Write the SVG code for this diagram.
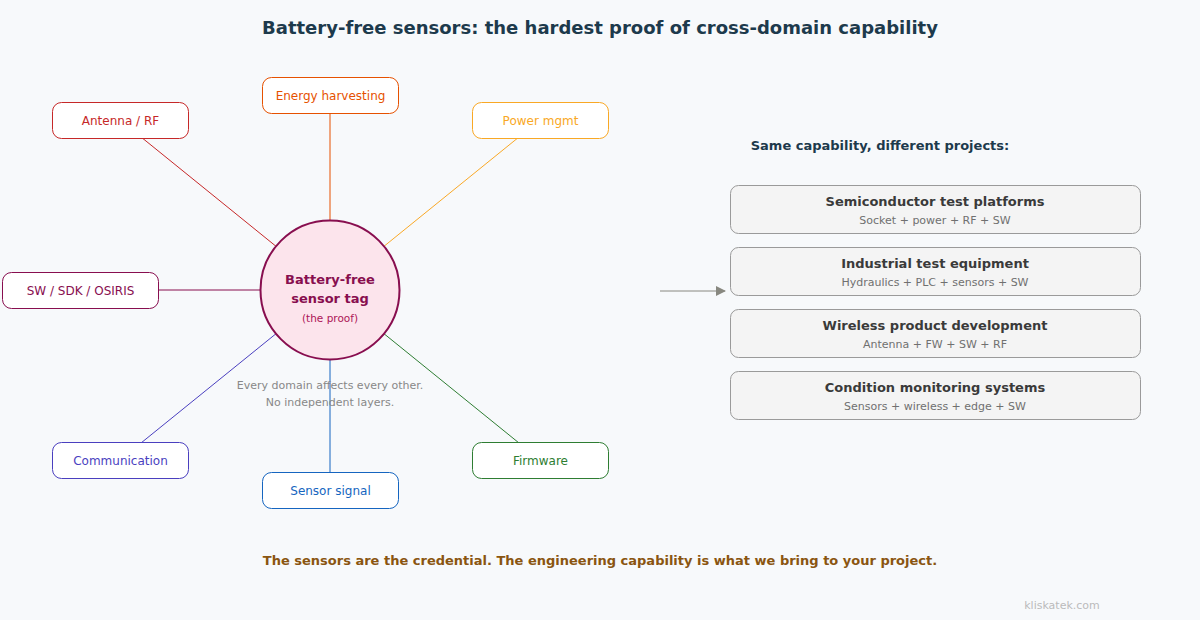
<svg xmlns="http://www.w3.org/2000/svg" width="1200" height="620" viewBox="0 0 1200 620">
<defs>
<marker id="arr" markerWidth="10" markerHeight="10" refX="9" refY="5" orient="auto" markerUnits="userSpaceOnUse">
<path d="M0,0 L10,5 L0,10 z" fill="#888880"/>
</marker>
<style>
text{font-family:"DejaVu Sans","Liberation Sans",sans-serif}
.dom rect{fill:#ffffff;stroke-width:1}
.dom text{font-size:12px;text-anchor:middle}
.proj rect{fill:#f4f4f4;stroke:#9a9a9a;stroke-width:1}
.pt{font-size:13px;font-weight:bold;fill:#3a3a3a;text-anchor:middle}
.ps{font-size:11px;fill:#707070;text-anchor:middle}
.conn line{stroke-width:1}
</style>
</defs>
<rect width="1200" height="620" fill="#f7f9fb"/>
<text x="600" y="34" font-size="18" font-weight="bold" fill="#1d3a4c" text-anchor="middle">Battery-free sensors: the hardest proof of cross-domain capability</text>

<g id="connectors" class="conn">
<line x1="120" y1="120" x2="330" y2="290" stroke="#c62828"/>
<line x1="330" y1="95" x2="330" y2="290" stroke="#e65100"/>
<line x1="540" y1="120" x2="330" y2="290" stroke="#f9a825"/>
<line x1="80" y1="290" x2="330" y2="290" stroke="#880e4f"/>
<line x1="120" y1="460" x2="330" y2="290" stroke="#4a3fbf"/>
<line x1="330" y1="490" x2="330" y2="290" stroke="#1565c0"/>
<line x1="540" y1="460" x2="330" y2="290" stroke="#2e7d32"/>
<line x1="660" y1="291" x2="725" y2="291" stroke="#888880" stroke-width="1.5" marker-end="url(#arr)"/>
</g>

<g id="n-center">
<circle cx="330" cy="290" r="69.5" fill="#fce4ec" stroke="#880e4f" stroke-width="2"/>
<text x="330" y="284" font-size="13" font-weight="bold" fill="#880e4f" text-anchor="middle">Battery-free</text>
<text x="330" y="303" font-size="13" font-weight="bold" fill="#880e4f" text-anchor="middle">sensor tag</text>
<text x="330" y="322" font-size="10.5" fill="#ad1457" text-anchor="middle">(the proof)</text>
</g>

<g id="n-antenna" class="dom"><rect x="52.5" y="102.5" width="136" height="36" rx="9" stroke="#c62828"/><text x="120.5" y="125" fill="#c62828">Antenna / RF</text></g>
<g id="n-energy" class="dom"><rect x="262.5" y="77.5" width="136" height="36" rx="9" stroke="#e65100"/><text x="330.5" y="100" fill="#e65100">Energy harvesting</text></g>
<g id="n-power" class="dom"><rect x="472.5" y="102.5" width="136" height="36" rx="9" stroke="#f9a825"/><text x="540.5" y="125" fill="#f9a825">Power mgmt</text></g>
<g id="n-sw" class="dom"><rect x="2.5" y="272.5" width="156" height="36" rx="9" stroke="#880e4f"/><text x="80.5" y="295" fill="#880e4f">SW / SDK / OSIRIS</text></g>
<g id="n-comm" class="dom"><rect x="52.5" y="442.5" width="136" height="36" rx="9" stroke="#4a3fbf"/><text x="120.5" y="465" fill="#4a3fbf">Communication</text></g>
<g id="n-sensor" class="dom"><rect x="262.5" y="472.5" width="136" height="36" rx="9" stroke="#1565c0"/><text x="330.5" y="495" fill="#1565c0">Sensor signal</text></g>
<g id="n-firmware" class="dom"><rect x="472.5" y="442.5" width="136" height="36" rx="9" stroke="#2e7d32"/><text x="540.5" y="465" fill="#2e7d32">Firmware</text></g>

<text x="330" y="389" font-size="11" fill="#888888" text-anchor="middle">Every domain affects every other.</text>
<text x="330" y="406" font-size="11" fill="#888888" text-anchor="middle">No independent layers.</text>

<text x="880" y="150" font-size="13" font-weight="bold" fill="#1d3a4c" text-anchor="middle">Same capability, different projects:</text>

<g id="p-semi" class="proj"><rect x="730.5" y="185.5" width="410" height="48" rx="8"/><text class="pt" x="935" y="206">Semiconductor test platforms</text><text class="ps" x="935" y="224">Socket + power + RF + SW</text></g>
<g id="p-ind" class="proj"><rect x="730.5" y="247.5" width="410" height="48" rx="8"/><text class="pt" x="935" y="268">Industrial test equipment</text><text class="ps" x="935" y="286">Hydraulics + PLC + sensors + SW</text></g>
<g id="p-wire" class="proj"><rect x="730.5" y="309.5" width="410" height="48" rx="8"/><text class="pt" x="935" y="330">Wireless product development</text><text class="ps" x="935" y="348">Antenna + FW + SW + RF</text></g>
<g id="p-cond" class="proj"><rect x="730.5" y="371.5" width="410" height="48" rx="8"/><text class="pt" x="935" y="392">Condition monitoring systems</text><text class="ps" x="935" y="410">Sensors + wireless + edge + SW</text></g>

<text x="600" y="565" font-size="13" font-weight="bold" fill="#8a5510" text-anchor="middle">The sensors are the credential. The engineering capability is what we bring to your project.</text>
<text x="1062" y="609" font-size="11" fill="#bbbbbb" text-anchor="middle">kliskatek.com</text>
</svg>
